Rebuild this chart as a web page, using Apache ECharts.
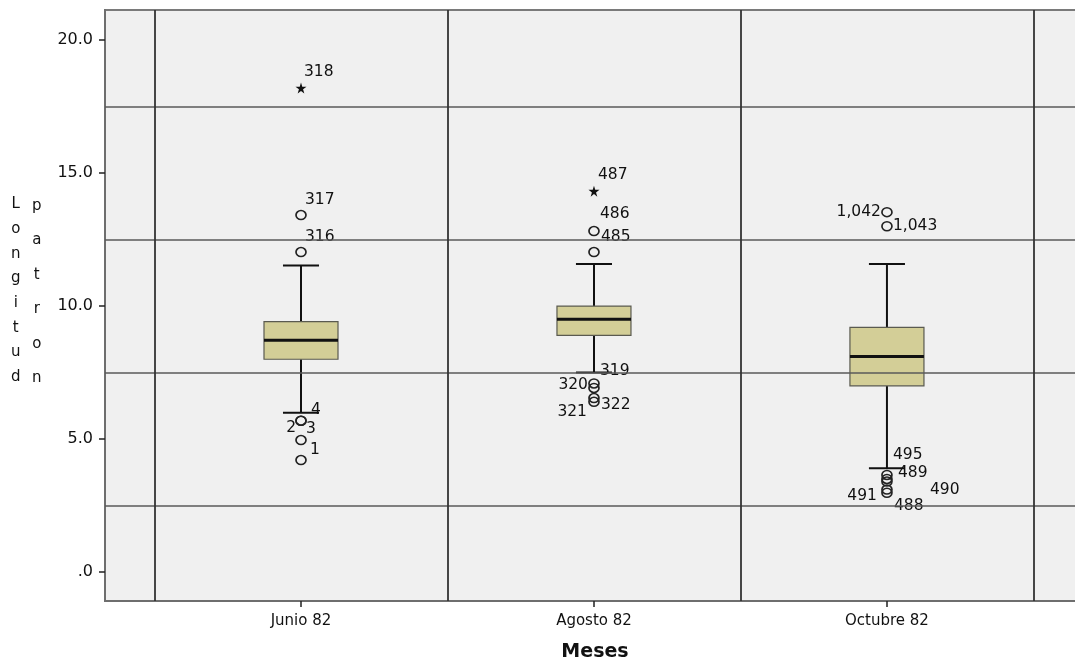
<!DOCTYPE html>
<html><head><meta charset="utf-8">
<script src="https://cdn.jsdelivr.net/npm/echarts@6/dist/echarts.min.js"></script>
<style>html,body{margin:0;padding:0;background:#fff}#c{width:1075px;height:663px}</style>
</head><body><div id="c"></div>
<script>
// ---------- DATA ----------
const categories = ['Junio 82', 'Agosto 82', 'Octubre 82'];
// [lower whisker, Q1, median, Q3, upper whisker]
const boxJunio   = [5.99, 8.00, 8.71, 9.41, 11.52];
const boxAgosto  = [7.50, 8.90, 9.50, 10.00, 11.58];
const boxOctubre = [3.90, 7.00, 8.10, 9.20, 11.58];
const outlierIds    = ['318','317','316','4','2','3','1',
                       '487','486','485','319','320','322','321',
                       '1,042','1,043','495','489','490','491','488'];
const outlierGroup  = [0,0,0,0,0,0,0, 1,1,1,1,1,1,1, 2,2,2,2,2,2,2];
const outlierValues = [18.2,13.42,12.03,5.69,5.69,4.96,4.21,
                       14.32,12.82,12.03,7.09,6.92,6.54,6.40,
                       13.53,13.0,3.65,3.5,3.4,3.1,2.98];
const outlierKind   = ['*','o','o','o','o','o','o',
                       '*','o','o','o','o','o','o',
                       'o','o','o','o','o','o','o'];
const yTicks = [0, 5, 10, 15, 20];
const yGridValues = [2.5, 7.5, 12.5, 17.5];
const xBoundaries = [-0.5, 0.5, 1.5, 2.5];
const yTitleLeft = 'Longitud';
const yTitleRight = 'patron';
const xTitle = 'Meses';

// ---------- LAYOUT / STYLE ----------
const labelPlace = {
  '318':[3,-16,'left'], '317':[4,-15,'left'], '316':[4,-15,'left'],
  '4':[10,-11,'left'], '2':[-5,7,'right'], '3':[5,-11,'left'], '1':[9,-10,'left'],
  '487':[4,-16,'left'], '486':[6,-17,'left'], '485':[7,-15,'left'],
  '319':[6,-12,'left'], '320':[-6,-3,'right'], '322':[7,7,'left'], '321':[-7,10,'right'],
  '1,042':[-6,0,'right'], '1,043':[6,0,'left'],
  '495':[6,-20,'left'], '489':[11,-6,'left'], '490':[43,8,'left'], '491':[-10,6,'right'], '488':[7,13,'left']
};
const BOX_W = 0.2526, CAP_W = 0.123;
const FONT = 'DejaVu Sans';
const STAR = 'path://M50,0 L61,35 L98,35 L68,57 L79,91 L50,70 L21,91 L32,57 L2,35 L39,35 Z';

const boxes = [boxJunio, boxAgosto, boxOctubre].map((b, i) => [i].concat(b));

const outlierData = outlierIds.map((id, i) => {
  const p = labelPlace[id] || [5, -12, 'left'];
  const star = outlierKind[i] === '*';
  return {
    name: id,
    value: [outlierGroup[i], outlierValues[i]],
    symbol: star ? STAR : 'circle',
    symbolSize: star ? 11 : [10, 9],
    itemStyle: star ? {color: '#111', borderWidth: 0, opacity: 1}
                    : {color: 'rgba(0,0,0,0)', borderColor: '#222', borderWidth: 1.6, opacity: 1},
    label: {show: true, position: 'inside', offset: [p[0], p[1]], align: p[2],
            verticalAlign: 'middle', formatter: id, color: '#111',
            textBorderWidth: 0, fontFamily: FONT, fontSize: 15.5}
  };
});

function renderBox(params, api) {
  const x = api.value(0);
  const lo = api.coord([x, api.value(1)]);
  const q1 = api.coord([x, api.value(2)]);
  const md = api.coord([x, api.value(3)]);
  const q3 = api.coord([x, api.value(4)]);
  const hi = api.coord([x, api.value(5)]);
  const bw = api.size([BOX_W, 0])[0];
  const cw = api.size([CAP_W, 0])[0];
  const cx = lo[0];
  const ls = {stroke: '#111', lineWidth: 2};
  return {type: 'group', children: [
    {type: 'line', shape: {x1: cx, y1: hi[1], x2: cx, y2: q3[1]}, style: ls},
    {type: 'line', shape: {x1: cx, y1: q1[1], x2: cx, y2: lo[1]}, style: ls},
    {type: 'line', shape: {x1: cx - cw / 2, y1: hi[1], x2: cx + cw / 2, y2: hi[1]}, style: ls},
    {type: 'line', shape: {x1: cx - cw / 2, y1: lo[1], x2: cx + cw / 2, y2: lo[1]}, style: ls},
    {type: 'rect', shape: {x: cx - bw / 2, y: q3[1], width: bw, height: q1[1] - q3[1]},
     style: {fill: '#d3ce97', stroke: '#5a5a50', lineWidth: 1.2}},
    {type: 'line', shape: {x1: cx - bw / 2, y1: md[1], x2: cx + bw / 2, y2: md[1]},
     style: {stroke: '#111', lineWidth: 3}}
  ]};
}

const gridLines = yGridValues.map(v => ({yAxis: v, lineStyle: {color: '#5a5a5a', width: 1.5, type: 'solid'}}))
  .concat(xBoundaries.map(v => ({xAxis: v, lineStyle: {color: '#333', width: 1.8, type: 'solid'}})));

const chart = echarts.init(document.getElementById('c'), null, {renderer: 'canvas'});
chart.setOption({
  animation: false,
  backgroundColor: '#fff',
  grid: {left: 105, top: 10, bottom: 62, right: -10, show: true, containLabel: false,
         outerBoundsMode: 'none',
         backgroundColor: '#f0f0f0', borderColor: '#7a7a7a', borderWidth: 2},
  xAxis: {
    type: 'value', min: -0.669, max: 2.676,
    axisLine: {show: true, onZero: false, lineStyle: {color: '#6e6e6e', width: 2}},
    axisTick: {show: true, length: 6, customValues: [0, 1, 2], lineStyle: {color: '#222', width: 1.5}},
    axisLabel: {customValues: [0, 1, 2], formatter: v => categories[Math.round(v)],
                color: '#111', fontFamily: FONT, fontSize: 15, margin: 13},
    splitLine: {show: false},
    name: xTitle, nameLocation: 'middle', nameGap: 42,
    nameTextStyle: {fontFamily: FONT, fontWeight: 'bold', fontSize: 19, color: '#111'}
  },
  yAxis: {
    type: 'value', min: -1.09, max: 21.13,
    axisLine: {show: true, onZero: false, lineStyle: {color: '#6e6e6e', width: 2}},
    axisTick: {show: true, length: 6, customValues: yTicks, lineStyle: {color: '#222', width: 1.5}},
    axisLabel: {customValues: yTicks, formatter: v => v === 0 ? '.0' : v.toFixed(1),
                color: '#111', fontFamily: FONT, fontSize: 16, margin: 12},
    splitLine: {show: false}
  },
  graphic: [
    {type: 'text', left: 11, top: 192, z: 10,
     style: {text: yTitleLeft.split('').join('\n'), lineHeight: 24.7, fill: '#111',
             font: '15px "DejaVu Sans"', textAlign: 'center'}},
    {type: 'text', left: 32, top: 189, z: 10,
     style: {text: yTitleRight.split('').join('\n'), lineHeight: 34.4, fill: '#111',
             font: '15px "DejaVu Sans"', textAlign: 'center'}}
  ],
  series: [
    {type: 'scatter', data: [], z: 1, silent: true,
     markLine: {silent: true, symbol: ['none', 'none'], label: {show: false}, data: gridLines}},
    {type: 'custom', renderItem: renderBox, data: boxes, z: 3,
     encode: {x: 0, y: [1, 2, 3, 4, 5]}},
    {type: 'scatter', data: outlierData, z: 4, itemStyle: {opacity: 1}}
  ]
});
</script></body></html>
